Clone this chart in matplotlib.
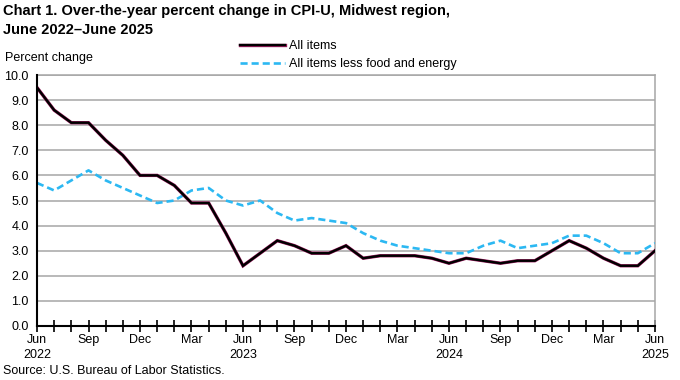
import matplotlib
matplotlib.use("Agg")
import matplotlib.pyplot as plt
import matplotlib.patheffects as pe
from matplotlib import font_manager

# fonts: narrow Arial look if available
names = {f.name for f in font_manager.fontManager.ttflist}
family = ["Liberation Sans Narrow"] if "Liberation Sans Narrow" in names else ["Liberation Sans"]
plt.rcParams["font.family"] = family + ["DejaVu Sans"]

months = ["Jun", "Jul", "Aug", "Sep", "Oct", "Nov", "Dec", "Jan", "Feb", "Mar", "Apr", "May"] * 3 + ["Jun"]
years = [2022] * 7 + [2023] * 12 + [2024] * 12 + [2025] * 6

all_items = [9.5, 8.6, 8.1, 8.1, 7.4, 6.8, 6.0, 6.0, 5.6, 4.9, 4.9, 3.7,
             2.4, 2.9, 3.4, 3.2, 2.9, 2.9, 3.2, 2.7, 2.8, 2.8, 2.8, 2.7,
             2.5, 2.7, 2.6, 2.5, 2.6, 2.6, 3.0, 3.4, 3.1, 2.7, 2.4, 2.4,
             3.0]
core = [5.7, 5.4, 5.8, 6.2, 5.8, 5.5, 5.2, 4.9, 5.0, 5.4, 5.5, 5.0,
        4.8, 5.0, 4.5, 4.2, 4.3, 4.2, 4.1, 3.7, 3.4, 3.2, 3.1, 3.0,
        2.9, 2.9, 3.2, 3.4, 3.1, 3.2, 3.3, 3.6, 3.6, 3.3, 2.9, 2.9,
        3.3]

x = list(range(len(months)))
tick_labels = []
for i, (m, y) in enumerate(zip(months, years)):
    if m == "Jun":
        tick_labels.append(f"{m}\n{y}")
    elif i % 3 == 0:
        tick_labels.append(m)
    else:
        tick_labels.append("")

fig = plt.figure(figsize=(6.8, 3.8), dpi=100)
ax = fig.add_axes([37 / 680, 1 - 326 / 380, 618 / 680, 251 / 380])

ax.plot(x, all_items, color="black", lw=1.7, solid_joinstyle="miter",
        path_effects=[pe.Stroke(linewidth=2.4, foreground="#9c1a5e"), pe.Normal()],
        label="All items", zorder=4)
ax.plot(x, core, color="#2cb8f2", lw=1.9, dashes=(2.7, 1.5),
        label="All items less food and energy", zorder=3)

ax.set_xlim(0, 36)
ax.set_ylim(0, 10)
ax.set_yticks([i for i in range(11)])
ax.set_yticklabels([f"{i:.1f}" for i in range(11)], fontsize=9)
ax.tick_params(axis="y", length=0, pad=6)
ax.set_xticks(x)
ax.set_xticklabels(tick_labels, fontsize=9, linespacing=1.3)
ax.tick_params(axis="x", direction="inout", length=8, width=1.2, pad=2)
ax.grid(axis="y", color="#a6a6a6", lw=1.1)
ax.set_axisbelow(True)
for side in ["top", "right"]:
    ax.spines[side].set_color("#a6a6a6")
    ax.spines[side].set_linewidth(1.1)
for side in ["left", "bottom"]:
    ax.spines[side].set_color("black")
    ax.spines[side].set_linewidth(1.5)
    ax.spines[side].set_zorder(5)

fig.text(3 / 680, 1 - 4 / 380, "Chart 1. Over-the-year percent change in CPI-U, Midwest region,\nJune 2022\u2013June 2025",
         fontsize=10.5, fontweight="bold", va="top", ha="left", linespacing=1.45)
fig.text(5 / 680, 1 - 58 / 380, "Percent change", fontsize=9, va="center", ha="left")
fig.text(3 / 680, 1 - 371 / 380, "Source: U.S. Bureau of Labor Statistics.", fontsize=9, va="center", ha="left")

leg = fig.legend(loc="upper left", bbox_to_anchor=(240 / 680, 1 - 40 / 380), frameon=False,
                 fontsize=9, handlelength=3.6, handletextpad=0.3, labelspacing=0.5,
                 borderaxespad=0, borderpad=0)

fig.savefig("out.png", dpi=100)
